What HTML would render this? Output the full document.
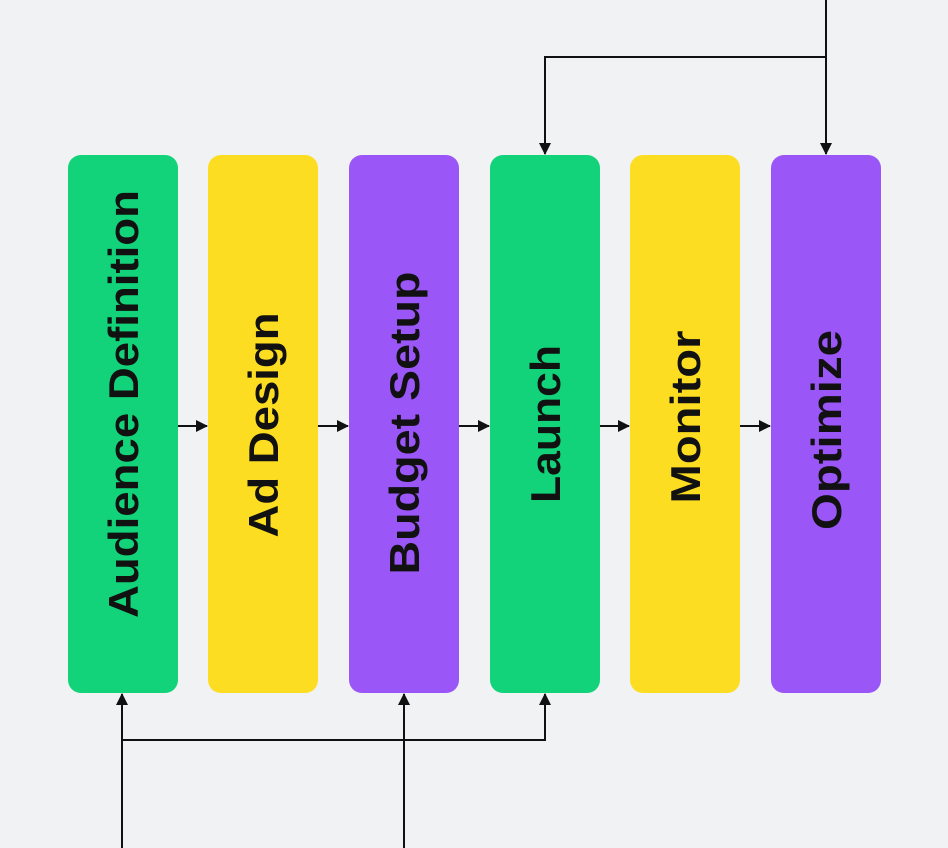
<!DOCTYPE html>
<html><head><meta charset="utf-8"><style>
html,body{margin:0;padding:0;background:#F1F2F3;}
svg{display:block}
</style></head><body>
<svg width="948" height="848" viewBox="0 0 948 848" xmlns="http://www.w3.org/2000/svg">
<defs>
<marker id="a" markerWidth="12" markerHeight="12" refX="11" refY="6" orient="auto" markerUnits="userSpaceOnUse">
<path d="M0,0 L12,6 L0,12 Z" fill="#111"/>
</marker>
</defs>
<rect width="948" height="848" fill="#F1F2F3"/>
<g>
<rect x="68" y="155" width="110" height="538" rx="13" fill="#13D37A"/>
<rect x="208" y="155" width="110" height="538" rx="13" fill="#FCDD22"/>
<rect x="349" y="155" width="110" height="538" rx="13" fill="#9B56F8"/>
<rect x="490" y="155" width="110" height="538" rx="13" fill="#13D37A"/>
<rect x="630" y="155" width="110" height="538" rx="13" fill="#FCDD22"/>
<rect x="771" y="155" width="110" height="538" rx="13" fill="#9B56F8"/>
</g>
<g font-family="Liberation Sans, Arial, sans-serif" font-weight="bold" font-size="42" fill="#111" text-anchor="middle">
<text transform="translate(138,404) rotate(-90)" textLength="428" lengthAdjust="spacingAndGlyphs">Audience Definition</text>
<text transform="translate(278,425) rotate(-90)" textLength="225" lengthAdjust="spacingAndGlyphs">Ad Design</text>
<text transform="translate(419,423) rotate(-90)" textLength="303" lengthAdjust="spacingAndGlyphs">Budget Setup</text>
<text transform="translate(560,424) rotate(-90)" textLength="158" lengthAdjust="spacingAndGlyphs">Launch</text>
<text transform="translate(700,417) rotate(-90)" textLength="173" lengthAdjust="spacingAndGlyphs">Monitor</text>
<text transform="translate(841,430) rotate(-90)" textLength="200" lengthAdjust="spacingAndGlyphs">Optimize</text>
</g>
<g stroke="#111" stroke-width="2" fill="none">
<line x1="178" y1="426" x2="207" y2="426" marker-end="url(#a)"/>
<line x1="318" y1="426" x2="348" y2="426" marker-end="url(#a)"/>
<line x1="459" y1="426" x2="489" y2="426" marker-end="url(#a)"/>
<line x1="600" y1="426" x2="629" y2="426" marker-end="url(#a)"/>
<line x1="740" y1="426" x2="770" y2="426" marker-end="url(#a)"/>
<line x1="826" y1="0" x2="826" y2="154" marker-end="url(#a)"/>
<polyline points="826,57 545,57 545,154" marker-end="url(#a)"/>
<line x1="122" y1="848" x2="122" y2="694" marker-end="url(#a)"/>
<polyline points="122,740 545,740 545,694" marker-end="url(#a)"/>
<line x1="404" y1="848" x2="404" y2="694" marker-end="url(#a)"/>
</g>
</svg>
</body></html>
